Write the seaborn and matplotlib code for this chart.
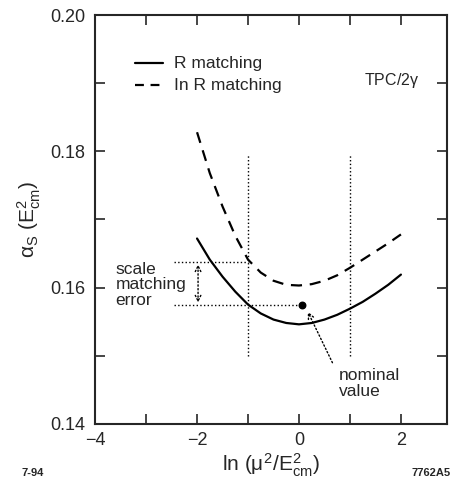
import pandas as pd
import matplotlib.pyplot as plt
import seaborn as sns
from matplotlib.ticker import MultipleLocator, FuncFormatter

# values (x = ln(mu^2/E_cm^2))
x_vals = [-2, -1.75, -1.5, -1.25, -1, -0.75, -0.5, -0.25, 0, 0.25, 0.5, 0.75, 1, 1.25, 1.5, 1.75, 2]
r_match = [0.1672, 0.1641, 0.1616, 0.1594, 0.1575, 0.1562, 0.1553, 0.1548, 0.1546,
           0.1548, 0.1553, 0.1560, 0.1569, 0.1579, 0.1591, 0.1604, 0.1619]
lnr_match = [0.1828, 0.1768, 0.1719, 0.1676, 0.1641, 0.1622, 0.1610, 0.1604, 0.1603,
             0.1605, 0.1610, 0.1618, 0.1629, 0.1641, 0.1653, 0.1665, 0.1678]
series_names = ["R matching", "In R matching"]

nominal_x, nominal_y = 0.05, 0.1574
upper_err = 0.1638
scale_lines_x = [-1, 1]

df = pd.DataFrame({
    "x": x_vals * 2,
    "alpha": r_match + lnr_match,
    "method": [series_names[0]] * len(x_vals) + [series_names[1]] * len(x_vals),
})

sns.set_style("ticks")
plt.rcParams["font.family"] = ["Liberation Sans", "DejaVu Sans"]
plt.rcParams["mathtext.fontset"] = "custom"
plt.rcParams["mathtext.rm"] = "Liberation Sans"
plt.rcParams["mathtext.it"] = "Liberation Sans"

fig = plt.figure(figsize=(4.55, 4.86), dpi=100)
ax = fig.add_axes([0.209, 0.128, 0.773, 0.841])

sns.lineplot(data=df, x="x", y="alpha", style="method", color="black",
             dashes={series_names[0]: "", series_names[1]: (5, 3.5)},
             linewidth=1.6, ax=ax, legend=False)

# dotted guide lines
for xv in scale_lines_x:
    ax.plot([xv, xv], [0.150, 0.1795], color="black", linestyle=":", linewidth=1)
ax.plot([-2.45, -1], [upper_err, upper_err], color="black", linestyle=":", linewidth=1)
ax.plot([-2.45, nominal_x], [nominal_y, nominal_y], color="black", linestyle=":", linewidth=1)
ax.annotate("", xy=(-1.98, upper_err), xytext=(-1.98, nominal_y),
            arrowprops=dict(arrowstyle="<->", linestyle=":", color="black", lw=1))

ax.scatter([nominal_x], [nominal_y], color="black", s=22, zorder=5)
ax.annotate("", xy=(0.15, 0.1568), xytext=(0.68, 0.1486),
            arrowprops=dict(arrowstyle="->", linestyle=":", color="black", lw=1))

ax.text(-3.6, 0.1604, "scale\nmatching\nerror", fontsize=12.5, va="center", ha="left",
        linespacing=1.05)
ax.text(0.78, 0.1459, "nominal\nvalue", fontsize=12.5, va="center", ha="left",
        linespacing=1.05)
ax.text(1.27, 0.1904, "TPC/2$\\gamma$", fontsize=11.5, va="center", ha="left")

# legend handles in the upper left
ax.plot([-3.22, -2.67], [0.1929, 0.1929], color="black", linewidth=1.6)
ax.plot([-3.22, -2.67], [0.1897, 0.1897], color="black", linewidth=1.6, dashes=(4, 3))
ax.text(-2.45, 0.1929, series_names[0], fontsize=12.5, va="center", ha="left")
ax.text(-2.45, 0.1897, series_names[1], fontsize=12.5, va="center", ha="left")

ax.set_xlim(-4, 2.9)
ax.set_ylim(0.14, 0.20)
ax.xaxis.set_major_locator(MultipleLocator(1))
ax.yaxis.set_major_locator(MultipleLocator(0.01))
ax.xaxis.set_major_formatter(FuncFormatter(lambda v, p: f"{v:.0f}".replace("-", "\u2212") if round(v) % 2 == 0 else ""))
ax.yaxis.set_major_formatter(FuncFormatter(lambda v, p: f"{v:.2f}" if round(v * 100) % 2 == 0 else ""))
ax.tick_params(direction="in", length=7, width=1.2, top=True, right=True, labelsize=13)
ax.tick_params(axis="y", pad=7)
ax.tick_params(axis="x", pad=6)
for s in ax.spines.values():
    s.set_linewidth(1.5)

ax.set_xlabel("ln ($\\mu^2$/E$^2_{\\rm cm}$)", fontsize=15, labelpad=2)
ax.set_ylabel("$\\alpha_S$ (E$^2_{\\rm cm}$)", fontsize=15, labelpad=5)

fig.text(0.048, 0.02, "7-94", fontsize=8, fontweight="bold")
fig.text(0.99, 0.02, "7762A5", fontsize=8, fontweight="bold", ha="right")

fig.savefig("out.png", dpi=100)
